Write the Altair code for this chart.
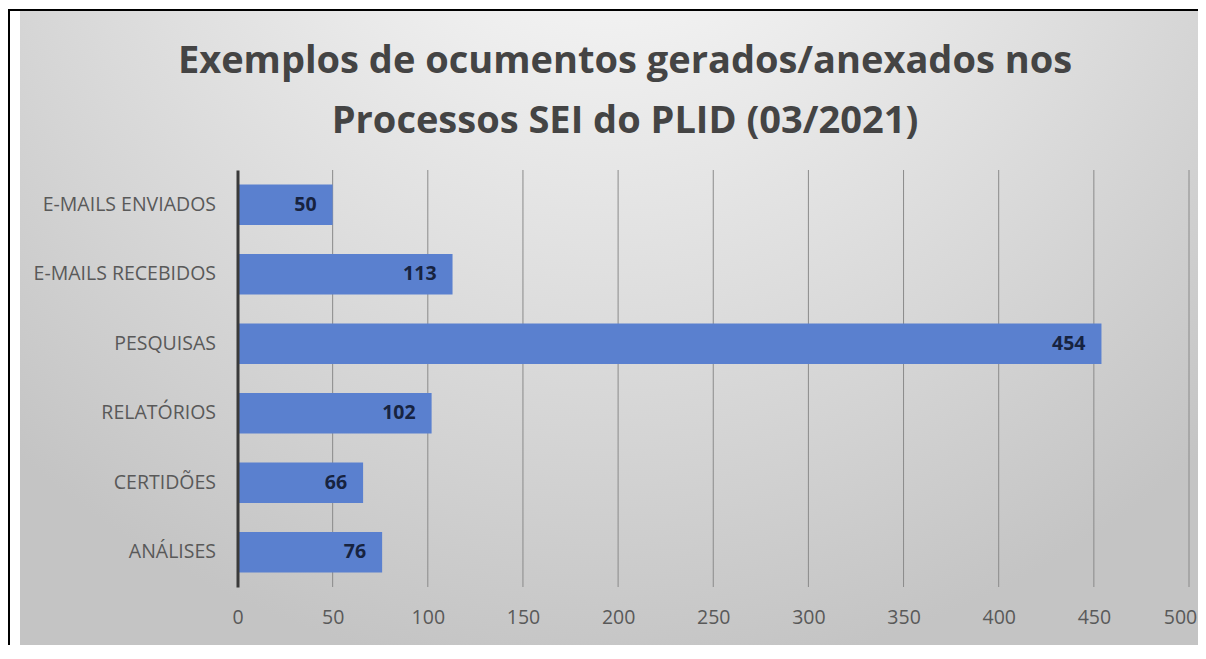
import altair as alt
import pandas as pd

categories = ["E-MAILS ENVIADOS", "E-MAILS RECEBIDOS", "PESQUISAS", "RELATÓRIOS", "CERTIDÕES", "ANÁLISES"]
values = [50, 113, 454, 102, 66, 76]
x_ticks = [0, 50, 100, 150, 200, 250, 300, 350, 400, 450, 500]
title_lines = ["Exemplos de ocumentos gerados/anexados nos", "Processos SEI do PLID (03/2021)"]

df = pd.DataFrame({"categoria": categories, "valor": values})
ticks_df = pd.DataFrame({"tick": x_ticks[1:]})
one = pd.DataFrame({"k": [0]})

W, H = 951.5, 417
PAD_L, PAD_T, PAD_R, PAD_B = 229.5, 162, 9, 58
FONT = "Open Sans"

gradient = alt.RadialGradient(
    gradient="radial",
    stops=[alt.GradientStop(color="#ffffff", offset=0),
           alt.GradientStop(color="#dfdfdf", offset=0.55),
           alt.GradientStop(color="#c4c4c4", offset=1)],
    x1=0.5, y1=0.05, r1=0, x2=0.5, y2=0.05, r2=0.75,
)

background = alt.Chart(one).mark_rect(fill=gradient, stroke=None).encode(
    x=alt.value(-PAD_L + 12), x2=alt.value(W + PAD_R),
    y=alt.value(-PAD_T + 3), y2=alt.value(H + PAD_B),
)
border_top = alt.Chart(one).mark_rule(color="black", strokeWidth=2).encode(
    x=alt.value(-PAD_L), x2=alt.value(W + PAD_R), y=alt.value(-PAD_T + 2),
)
border_left = alt.Chart(one).mark_rule(color="black", strokeWidth=2).encode(
    x=alt.value(-PAD_L + 1), y=alt.value(-PAD_T + 2), y2=alt.value(H + PAD_B),
)

title1 = alt.Chart(one).mark_text(
    font=FONT, fontSize=38, fontWeight="bold", color="#444444", align="center", baseline="alphabetic"
).encode(x=alt.value(387.5), y=alt.value(-97), text=alt.value(title_lines[0]))
title2 = alt.Chart(one).mark_text(
    font=FONT, fontSize=38, fontWeight="bold", color="#444444", align="center", baseline="alphabetic"
).encode(x=alt.value(387.5), y=alt.value(-37), text=alt.value(title_lines[1]))

x_scale = alt.Scale(domain=[0, 500], nice=False)

grid = alt.Chart(ticks_df).mark_rule(color="#8a8a8a", strokeWidth=1).encode(
    x=alt.X("tick:Q", scale=x_scale),
)

y_enc = alt.Y(
    "categoria:N", sort=categories, title=None,
    scale=alt.Scale(paddingInner=0.42, paddingOuter=0.21),
    axis=alt.Axis(ticks=False, domain=True, domainColor="#3a3a3a", domainWidth=3,
                  labelFont=FONT, labelFontSize=19.5, labelColor="#595959",
                  labelPadding=22, labelLimit=300, zindex=1),
)
x_enc = alt.X(
    "valor:Q", title=None, scale=x_scale,
    axis=alt.Axis(values=x_ticks, grid=False, labelFlush=False, labelOverlap=False,
                  labelOffset={"condition": {"test": "datum.value === 500", "value": -9}, "value": 0},
                  domain=False, ticks=False, labelFont=FONT, labelFontSize=19.5,
                  labelColor="#595959", labelPadding=21, zindex=1),
)

bars = alt.Chart(df).mark_bar(color="#5a80cf").encode(y=y_enc, x=x_enc)
labels = alt.Chart(df).mark_text(
    font=FONT, fontSize=19.5, fontWeight="bold", color="#172340", align="right", baseline="middle", dx=-16
).encode(y=alt.Y("categoria:N", sort=categories), x=alt.X("valor:Q"), text="valor:Q")

chart = alt.layer(background, border_top, border_left, title1, title2, grid, bars, labels).properties(
    width=W, height=H,
    autosize=alt.AutoSizeParams(type="none"),
    padding={"left": PAD_L, "top": PAD_T, "right": PAD_R, "bottom": PAD_B},
    background="white",
).configure_view(stroke=None)

chart.save("out.html", embed_options={"renderer": "svg", "actions": False})
